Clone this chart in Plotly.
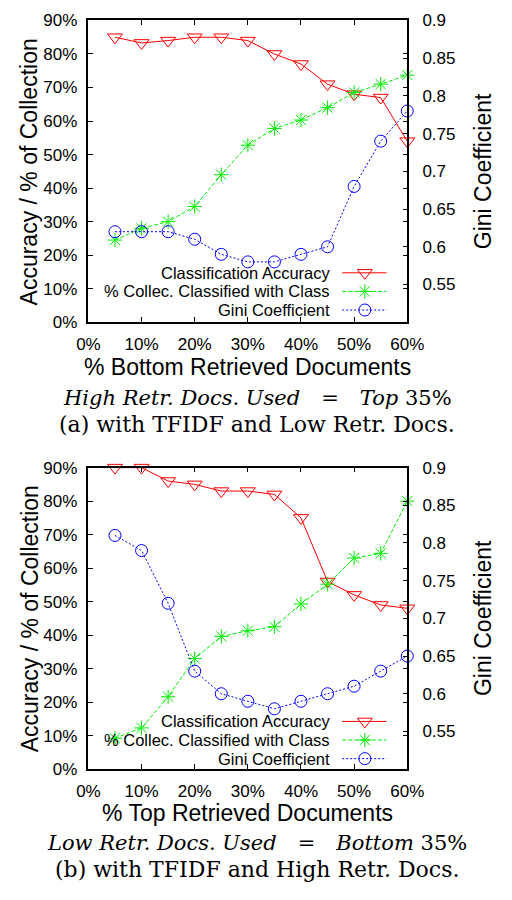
import plotly.graph_objects as go

# ---------------- data ----------------
x_pct = [5, 10, 15, 20, 25, 30, 35, 40, 45, 50, 55, 60]
x_ticks = [0, 10, 20, 30, 40, 50, 60]
x_ticktext = ["0%", "10%", "20%", "30%", "40%", "50%", "60%"]
y_ticks = [0, 10, 20, 30, 40, 50, 60, 70, 80, 90]
y_ticktext = ["0%", "10%", "20%", "30%", "40%", "50%", "60%", "70%", "80%", "90%"]
gini_ticks = [0.55, 0.6, 0.65, 0.7, 0.75, 0.8, 0.85, 0.9]
gini_ticktext = ["0.55", "0.6", "0.65", "0.7", "0.75", "0.8", "0.85", "0.9"]

top_accuracy = [85, 83.3, 84, 85, 85, 84, 80, 77, 71, 68, 67, 54]
top_collec = [24.5, 28, 30, 34.5, 44, 52.8, 57.8, 60.3, 64, 68.5, 71, 73.7]
top_gini = [0.62, 0.62, 0.62, 0.61, 0.59, 0.58, 0.58, 0.59, 0.60, 0.68, 0.74, 0.78]

bottom_accuracy = [90, 90, 86, 85, 83, 83, 82, 75, 56, 52, 49, 48]
bottom_collec = [9.2, 12.3, 21.6, 33, 39.6, 41.3, 42.5, 49.3, 55.2, 63, 64.4, 80]
bottom_gini = [0.81, 0.79, 0.72, 0.63, 0.60, 0.59, 0.58, 0.59, 0.60, 0.61, 0.63, 0.65]

series_names = ["Classification Accuracy", "% Collec. Classified with Class", "Gini Coefficient"]

# ---------------- style ----------------
W, H = 512, 900
RED, GREEN, BLUE = "#ff0000", "#00ee00", "#0000ff"
SANS = "Liberation Sans, Arial, sans-serif"
SERIF = "DejaVu Serif, serif"
TICK_FS = 17
LEG_FS = 16.5
TITLE_FS = 23
CAP_FS = 22
CAP_MATH_FS = 21


def px(x):
    return x / W


def py(y):
    return 1 - y / H


styles = [
    dict(color=RED, dash="solid", symbol="triangle-down-open", size=13),
    dict(color=GREEN, dash="4px,2px", symbol="asterisk-open", size=12),
    dict(color=BLUE, dash="2px,2px", symbol="circle-open", size=12),
]

fig = go.Figure()

panels = [
    dict(xa="x", ya="y", ya2="y2",
         data=[top_accuracy, top_collec, top_gini]),
    dict(xa="x2", ya="y3", ya2="y4",
         data=[bottom_accuracy, bottom_collec, bottom_gini]),
]

for p in panels:
    for i, (vals, st) in enumerate(zip(p["data"], styles)):
        fig.add_trace(go.Scatter(
            x=x_pct, y=vals, name=series_names[i], mode="lines+markers",
            xaxis=p["xa"], yaxis=(p["ya2"] if i == 2 else p["ya"]),
            line=dict(color=st["color"], width=1, dash=st["dash"]),
            marker=dict(symbol=st["symbol"], size=st["size"],
                        color=st["color"], line=dict(color=st["color"], width=1)),
            cliponaxis=False, showlegend=False,
        ))

# ---------------- manual gnuplot-style legends ----------------
legend_rows = {  # pixel rows of the legend entries
    "top": [269.5, 288.5, 307.5],
    "bottom": [727.8, 746.8, 765.8],
}
LEG_TEXT_RIGHT = 339
LEG_LINE_X0, LEG_LINE_X1, LEG_MARK_X = 350, 397, 374

annotations = []
for key, rows in legend_rows.items():
    for name, st, ry in zip(series_names, styles, rows):
        fig.add_trace(go.Scatter(
            x=[LEG_LINE_X0, LEG_LINE_X1], y=[ry, ry], mode="lines",
            xaxis="x3", yaxis="y5",
            line=dict(color=st["color"], width=1, dash=st["dash"]),
            showlegend=False, hoverinfo="skip"))
        fig.add_trace(go.Scatter(
            x=[LEG_MARK_X], y=[ry], mode="markers",
            xaxis="x3", yaxis="y5",
            marker=dict(symbol=st["symbol"], size=st["size"], color=st["color"],
                        line=dict(color=st["color"], width=1)),
            showlegend=False, hoverinfo="skip"))
        annotations.append(dict(
            text=name, x=px(LEG_TEXT_RIGHT), y=py(ry), xref="paper", yref="paper",
            xanchor="right", yanchor="middle", showarrow=False,
            font=dict(family=SANS, size=LEG_FS, color="black")))

# ---------------- axes ----------------
top_dom = [py(320), py(11.7)]
bot_dom = [py(776.5), py(468.5)]
x_dom = [px(81), px(419)]

common_axis = dict(showgrid=False, zeroline=False, showline=True, linecolor="black",
                   linewidth=1.5, ticks="inside", ticklen=5, tickwidth=1, tickcolor="black",
                   tickfont=dict(family=SANS, size=TICK_FS, color="black"), fixedrange=True)


def xaxis_def(anchor):
    return dict(common_axis, domain=x_dom, anchor=anchor, range=[0, 60],
                tickvals=x_ticks, ticktext=x_ticktext, mirror="ticks", ticklabelstandoff=6)


def yaxis_def(anchor, dom):
    return dict(common_axis, domain=dom, anchor=anchor, range=[0, 90],
                tickvals=y_ticks, ticktext=y_ticktext, mirror="ticks", ticklabelstandoff=6)


def y2axis_def(anchor, overlay):
    return dict(common_axis, anchor=anchor, overlaying=overlay, side="right",
                range=[0.5, 0.9], tickvals=gini_ticks, ticktext=gini_ticktext,
                ticklabelstandoff=10)


fig.update_layout(
    xaxis=xaxis_def("y"),
    yaxis=yaxis_def("x", top_dom),
    yaxis2=y2axis_def("x", "y"),
    xaxis2=xaxis_def("y3"),
    yaxis3=yaxis_def("x2", bot_dom),
    yaxis4=y2axis_def("x2", "y3"),
    xaxis3=dict(domain=[0, 1], range=[0, W], visible=False, anchor="y5", fixedrange=True),
    yaxis5=dict(domain=[0, 1], range=[H, 0], visible=False, anchor="x3", fixedrange=True),
)

# ---------------- titles & captions ----------------
SP = "\u2003"
panel_text = [
    dict(center=166, xtitle="% Bottom Retrieved Documents", xtitle_y=366,
         cap1=f"<i>High Retr. Docs. Used</i>{SP}={SP}<i>Top</i> 35%", cap1_y=397,
         cap2="(a) with TFIDF and Low Retr. Docs.", cap2_y=424),
    dict(center=622.5, xtitle="% Top Retrieved Documents", xtitle_y=821,
         cap1=f"<i>Low Retr. Docs. Used</i>{SP}={SP}<i>Bottom</i> 35%", cap1_y=852,
         cap2="(b) with TFIDF and High Retr. Docs.", cap2_y=879),
]
for t in panel_text:
    annotations += [
        dict(text="Accuracy / % of Collection", x=px(19), y=py(t["center"]), textangle=-90),
        dict(text="Gini Coefficient", x=px(500), y=py(t["center"]), textangle=-90),
        dict(text=t["xtitle"], x=px(250), y=py(t["xtitle_y"])),
    ]
    for a in annotations[-3:]:
        a.update(xref="paper", yref="paper", xanchor="center", yanchor="middle",
                 showarrow=False, font=dict(family=SANS, size=TITLE_FS, color="black"))
    for txt, yy, fs in ((t["cap1"], t["cap1_y"], CAP_MATH_FS), (t["cap2"], t["cap2_y"], CAP_FS)):
        annotations.append(dict(text=txt, x=px(260), y=py(yy), xref="paper", yref="paper",
                                xanchor="center", yanchor="middle", showarrow=False,
                                font=dict(family=SERIF, size=fs, color="black")))

fig.update_layout(
    width=W, height=H, margin=dict(l=0, r=0, t=0, b=0),
    paper_bgcolor="white", plot_bgcolor="rgba(0,0,0,0)",
    showlegend=False, annotations=annotations,
)

fig.write_html("out.html", config={"displayModeBar": False})
